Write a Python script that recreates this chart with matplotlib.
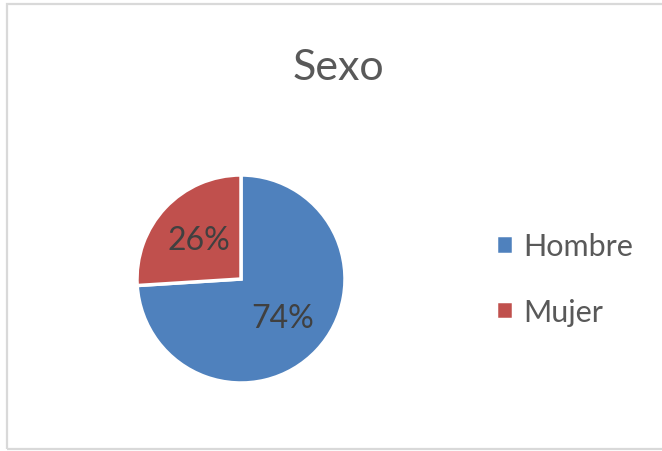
import matplotlib
matplotlib.use("Agg")
import matplotlib.pyplot as plt
from matplotlib.patches import Rectangle

plt.rcParams['font.family'] = ['Lato', 'DejaVu Sans']

labels = ["Hombre", "Mujer"]
values = [74, 26]
colors = ["#4F81BD", "#C0504D"]

W, H = 662, 452
fig = plt.figure(figsize=(W / 100, H / 100), dpi=100)

# chart frame (light grey, open on the right)
fig.patches.append(Rectangle((7 / W, 2 / H), 1.2, (H - 7) / H, transform=fig.transFigure,
                             fill=False, edgecolor="#D9D9D9", linewidth=1.6))

fig.text(338 / W, 1 - 68 / H, "Sexo", ha="center", va="center", fontsize=31, color="#595959")

cx, cy, r = 241, 280, 104
ax = fig.add_axes([(cx - r) / W, (H - cy - r) / H, 2 * r / W, 2 * r / H])
wedges, texts, autotexts = ax.pie(
    values, colors=colors, startangle=90, counterclock=False,
    autopct="%1.0f%%", pctdistance=0.55,
    wedgeprops=dict(edgecolor="white", linewidth=2.5),
    textprops=dict(fontsize=23, color="#404040"))
ax.set_xlim(-1, 1)
ax.set_ylim(-1, 1)
ax.set_aspect("equal")
ax.axis("off")

fig.legend(wedges, labels, loc="center left", bbox_to_anchor=(496 / W, 1 - 280 / H),
           frameon=False, fontsize=22, labelcolor="#595959", borderpad=0, borderaxespad=0,
           handlelength=0.55, handleheight=0.55, handletextpad=0.35, labelspacing=1.22)

fig.savefig("out.png", dpi=100)
